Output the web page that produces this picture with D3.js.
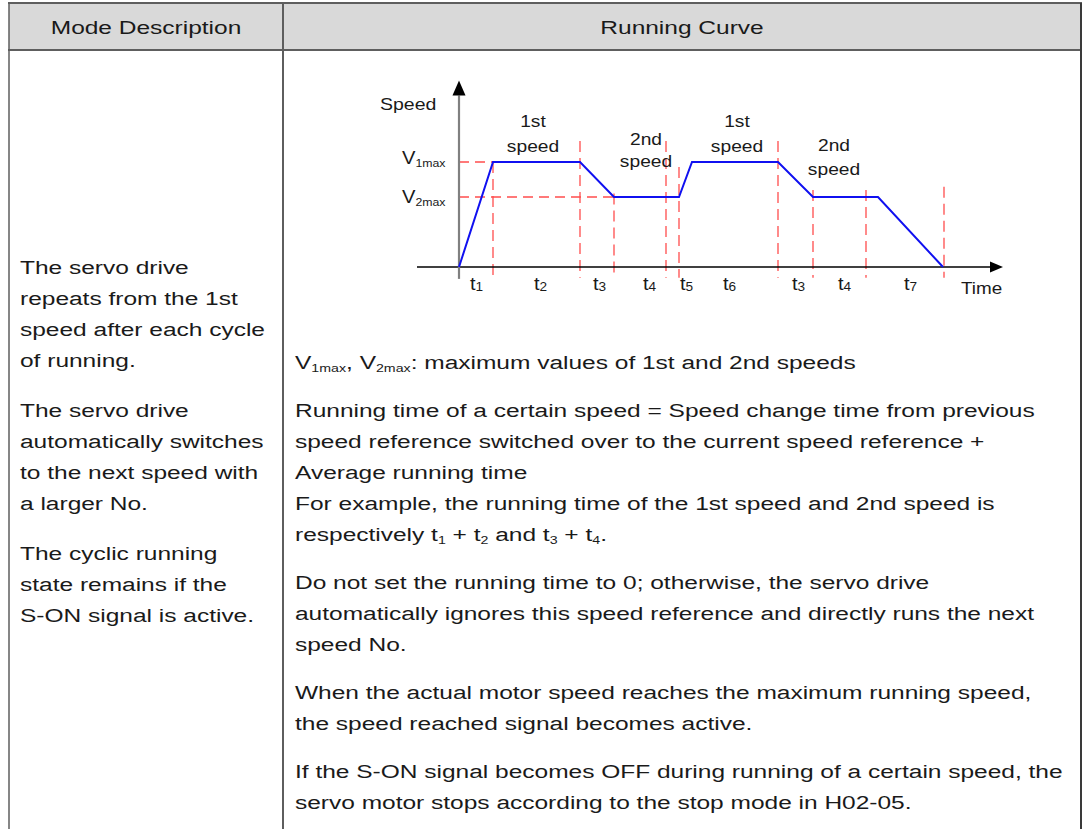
<!DOCTYPE html>
<html>
<head>
<meta charset="utf-8">
<script src="https://cdn.jsdelivr.net/npm/d3@7"></script>
<style>
  html, body { margin: 0; padding: 0; background: #fff; }
  svg { display: block; font-family: "Liberation Sans", Arial, sans-serif; }
</style>
</head>
<body>
<div id="chart"></div>
<script>
// ---------------- data ----------------
const headers = ["Mode Description", "Running Curve"];

const modeDescription = [
  ["The servo drive", "repeats from the 1st", "speed after each cycle", "of running."],
  ["The servo drive", "automatically switches", "to the next speed with", "a larger No."],
  ["The cyclic running", "state remains if the", "S-ON signal is active."]
];

const notes = [
  ["V_{1max}, V_{2max}: maximum values of 1st and 2nd speeds"],
  ["Running time of a certain speed = Speed change time from previous",
   "speed reference switched over to the current speed reference +",
   "Average running time",
   "For example, the running time of the 1st speed and 2nd speed is",
   "respectively t_{1} + t_{2} and t_{3} + t_{4}."],
  ["Do not set the running time to 0; otherwise, the servo drive",
   "automatically ignores this speed reference and directly runs the next",
   "speed No."],
  ["When the actual motor speed reaches the maximum running speed,",
   "the speed reached signal becomes active."],
  ["If the S-ON signal becomes OFF during running of a certain speed, the",
   "servo motor stops according to the stop mode in H02-05."]
];

// speed profile (time in arbitrary units, speed in arbitrary units)
const profileTime  = [0, 3.4, 12.1, 15.5, 22.0, 23.3, 31.9, 35.4, 41.9, 48.4];
const profileSpeed = [0, 3,   3,    2,    2,    3,    3,    2,    2,    0];

// red dashed vertical guides: time and top speed
const guideTimes = [3.4, 12.1, 15.5, 20.7, 22.0, 31.9, 35.4, 40.7, 48.5];
const guideTops  = [3.0, 3.6,  2.1,  3.6,  2.86, 3.6,  2.2,  2.2,  2.29];
const guideBottom = -0.31;

// horizontal level guides
const levelNames  = ["V_{1max}", "V_{2max}"];
const levelValues = [3, 2];
const levelEnds   = [3.4, 15.5];
const levelLabelSpeeds = [2.94, 1.83];

// interval labels under time axis
const intervalLabels = ["t_{1}", "t_{2}", "t_{3}", "t_{4}", "t_{5}", "t_{6}", "t_{3}", "t_{4}", "t_{7}"];
const intervalTimes  = [1.1, 7.5, 13.4, 18.4, 22.1, 26.4, 33.3, 37.9, 44.5];

// phase labels
const phaseLabels = [["1st", "speed"], ["2nd", "speed"], ["1st", "speed"], ["2nd", "speed"]];
const phaseTimes  = [7.4, 18.7, 27.8, 37.5];
const phaseSpeeds = [4.0, 3.49, 4.0, 3.31];
const phaseGaps   = [25, 22, 25, 24];

// ---------------- layout ----------------
const W = 1082, H = 829;
const TL = 9, TR = 1081, TT = 3, HB = 50, COL = 283;
const textColor = "#1a1a1a";

const svg = d3.select("#chart").append("svg").attr("width", W).attr("height", H);

// helper: stretched text with _{sub} markup
function addText(parent, x, y, str, o) {
  const size = o.size || 19, sx = o.sx || 1.29, subSize = o.subSize || 11, shift = o.shift || 3;
  const t = parent.append("text")
    .attr("transform", `translate(${x},${y}) scale(${sx},1)`)
    .attr("font-size", size)
    .attr("fill", textColor)
    .attr("text-anchor", o.anchor || "start");
  const parts = str.split(/(_\{[^}]*\})/).filter(p => p.length);
  let down = false;
  parts.forEach(p => {
    const m = p.match(/^_\{([^}]*)\}$/);
    if (m) {
      t.append("tspan").attr("font-size", subSize).attr("dy", down ? 0 : shift).text(m[1]);
      down = true;
    } else {
      const ts = t.append("tspan").attr("dy", down ? -shift : 0).text(p);
      down = false;
    }
  });
  return t;
}

// ---------------- table ----------------
svg.append("rect").attr("x", TL).attr("y", TT).attr("width", TR - TL).attr("height", HB - TT)
  .attr("fill", "#d9d9d9");
const border = "#5e5e5e";
svg.append("line").attr("x1", TL - 1).attr("x2", TR + 1).attr("y1", TT).attr("y2", TT)
  .attr("stroke", border).attr("stroke-width", 2);
svg.append("line").attr("x1", TL - 1).attr("x2", TR + 1).attr("y1", HB).attr("y2", HB)
  .attr("stroke", border).attr("stroke-width", 2);
svg.append("line").attr("x1", TL).attr("x2", TL).attr("y1", TT).attr("y2", H)
  .attr("stroke", border).attr("stroke-width", 1.5);
svg.append("line").attr("x1", COL).attr("x2", COL).attr("y1", TT).attr("y2", H)
  .attr("stroke", border).attr("stroke-width", 2);
svg.append("line").attr("x1", TR).attr("x2", TR).attr("y1", TT).attr("y2", H)
  .attr("stroke", "#3a3a3a").attr("stroke-width", 2);

addText(svg, (TL + COL) / 2, 34, headers[0], { anchor: "middle" });
addText(svg, (COL + TR) / 2, 34, headers[1], { anchor: "middle" });

// left column
{
  let y = 274;
  modeDescription.forEach((para, pi) => {
    para.forEach((line, li) => {
      addText(svg, 20, y, line, {});
      y += 31;
    });
    y += 19;
  });
}

// right column notes
{
  let y = 369;
  notes.forEach((para) => {
    para.forEach((line) => {
      addText(svg, 295, y, line, { subSize: 11, shift: 3 });
      y += 31;
    });
    y += 17;
  });
}

// ---------------- chart ----------------
const x = d3.scaleLinear().domain([0, 54]).range([459, 999]);
const y = d3.scaleLinear().domain([0, 3]).range([267, 162]);
const g = svg.append("g");

const red = "#ff4d4d";
// red horizontal level guides
g.selectAll(".lvl").data(levelValues).join("line")
  .attr("x1", x(0)).attr("x2", (d, i) => x(levelEnds[i]))
  .attr("y1", d => y(d)).attr("y2", d => y(d))
  .attr("stroke", red).attr("stroke-width", 1.3).attr("stroke-dasharray", "10,6");
// red vertical guides
g.selectAll(".gd").data(guideTimes).join("line")
  .attr("x1", d => x(d)).attr("x2", d => x(d))
  .attr("y1", (d, i) => y(guideTops[i])).attr("y2", y(guideBottom))
  .attr("stroke", red).attr("stroke-width", 1.3).attr("stroke-dasharray", "11,6");

// axes
g.append("line").attr("x1", x(-4.2)).attr("x2", x(53.3)).attr("y1", y(0)).attr("y2", y(0))
  .attr("stroke", "#000").attr("stroke-width", 1.5);
g.append("path")
  .attr("d", `M${x(54.4)},${y(0)} L${x(53.1)},${y(0) - 5.5} L${x(53.1)},${y(0) + 5.5} Z`)
  .attr("fill", "#000");
g.append("line").attr("x1", x(0)).attr("x2", x(0)).attr("y1", y(-0.34)).attr("y2", y(4.9))
  .attr("stroke", "#808080").attr("stroke-width", 2.2);
g.append("path")
  .attr("d", `M${x(0)},${y(5.33)} L${x(0) - 6.5},${y(4.9)} L${x(0) + 6.5},${y(4.9)} Z`)
  .attr("fill", "#000");

// speed profile
const profile = profileTime.map((t, i) => [t, profileSpeed[i]]);
g.append("path").datum(profile)
  .attr("d", d3.line().x(d => x(d[0])).y(d => y(d[1])))
  .attr("fill", "none").attr("stroke", "#1010f0").attr("stroke-width", 2)
  .attr("stroke-linejoin", "miter");

// labels
addText(g, x(-7.9), y(4.49), "Speed", { size: 16, sx: 1.22 });
addText(g, x(50.2), y(-0.77), "Time", { size: 16, sx: 1.18 });

levelNames.forEach((n, i) => {
  addText(g, x(-5.7), y(levelLabelSpeeds[i]), n, { size: 18, sx: 1.12, subSize: 11, shift: 0 });
});

intervalLabels.forEach((n, i) => {
  addText(g, x(intervalTimes[i]), y(-0.66), n, { size: 19, sx: 1.05, subSize: 13, shift: 1 });
});

phaseLabels.forEach((pair, i) => {
  addText(g, x(phaseTimes[i]), y(phaseSpeeds[i]), pair[0], { size: 16, sx: 1.2, anchor: "middle" });
  addText(g, x(phaseTimes[i]), y(phaseSpeeds[i]) + phaseGaps[i], pair[1], { size: 16, sx: 1.2, anchor: "middle" });
});
</script>
</body>
</html>
